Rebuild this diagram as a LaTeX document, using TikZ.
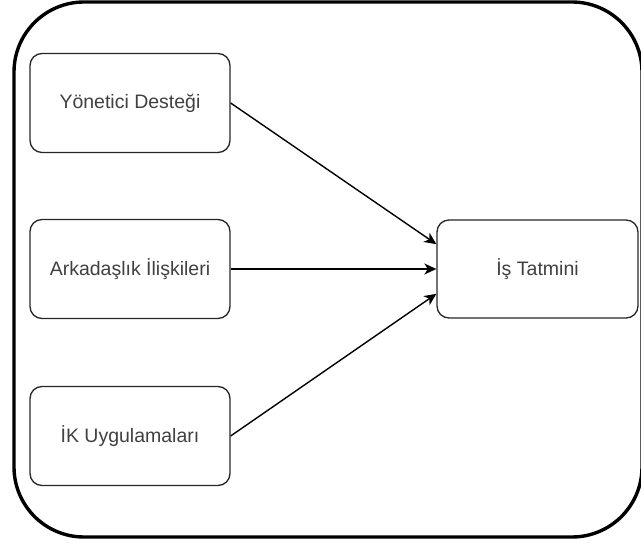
\documentclass[tikz,border=0pt]{standalone}
\usepackage{fontspec}
\setmainfont{Liberation Sans}
\usetikzlibrary{arrows.meta,calc}
\begin{document}
\begin{tikzpicture}[x=1pt,y=-1pt,
  box/.style={draw=black!85, line width=1.3pt, rounded corners=12pt,
    minimum width=200pt, minimum height=99pt, inner sep=0pt,
    font=\fontsize{19.5}{22}\selectfont, text=black!75},
  link/.style={line width=1.4pt, -{Stealth[length=12pt,width=11pt,inset=3.5pt]}}]
\useasboundingbox (0,0) rectangle (641,545);
\clip (0,0) rectangle (641,545);
% outer frame
\draw[line width=3.4pt, rounded corners=70pt] (14,2) rectangle (642,537);
% factor boxes
\node[box] (yd) at (130,103) {Yönetici Desteği};
\node[box] (ai) at (130,269) {Arkadaşlık İlişkileri};
\node[box] (ik) at (130,436) {İK Uygulamaları};
% outcome box
\node[box, minimum width=201pt, minimum height=98pt] (it) at (537.5,269) {İş Tatmini};
% connectors
\draw[link] (yd.east) -- ($(it.north west)!0.25!(it.south west)$);
\draw[link] (ai.east) -- (it.west);
\draw[link] (ik.east) -- ($(it.north west)!0.75!(it.south west)$);
\end{tikzpicture}
\end{document}
